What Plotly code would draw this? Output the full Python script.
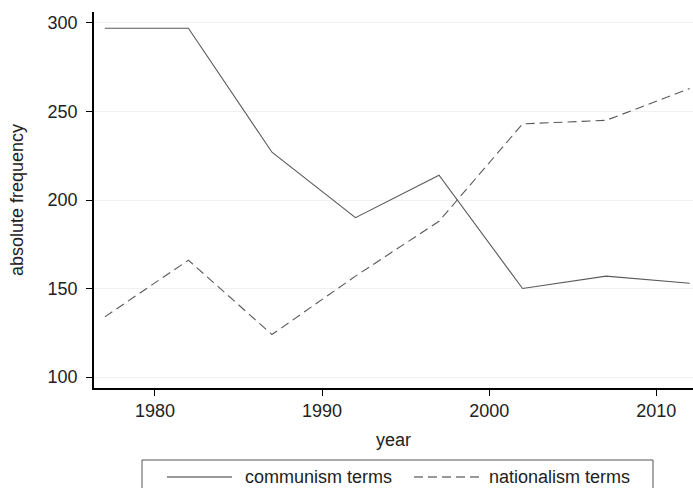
import plotly.graph_objects as go

years = [1977, 1982, 1987, 1992, 1997, 2002, 2007, 2012]
communism = [297, 297, 227, 190, 214, 150, 157, 153]
nationalism = [134, 166, 124, 157, 188, 243, 245, 263]
x_ticks = [1980, 1990, 2000, 2010]
y_ticks = [100, 150, 200, 250, 300]
series_names = ["communism terms", "nationalism terms"]

FONT = "Liberation Sans, Arial, sans-serif"
LINE_COLOR = "#5a5a5a"

fig = go.Figure()
fig.add_trace(go.Scatter(x=years, y=communism, mode="lines", name=series_names[0],
                         line=dict(color=LINE_COLOR, width=1.1), showlegend=False))
fig.add_trace(go.Scatter(x=years, y=nationalism, mode="lines", name=series_names[1],
                         line=dict(color=LINE_COLOR, width=1.1, dash="9px,5px"), showlegend=False))

fig.update_layout(
    width=693, height=488,
    margin=dict(l=94, r=0, t=12, b=100),
    paper_bgcolor="white", plot_bgcolor="white",
    font=dict(family=FONT, size=18, color="#222"),
    xaxis=dict(range=[1976.35, 2012.2], tickvals=x_ticks, ticks="outside", ticklen=6,
               tickcolor="black", showline=True, linecolor="black", linewidth=1.5,
               showgrid=False, zeroline=False,
               title=dict(text="year", standoff=13, font=dict(size=18))),
    yaxis=dict(range=[93.8, 306.2], tickvals=y_ticks, ticks="outside", ticklen=6,
               tickcolor="black", showline=True, linecolor="black", linewidth=1.5,
               showgrid=True, gridcolor="#f0f0f0", gridwidth=1, zeroline=False,
               ticklabelstandoff=5,
               title=dict(text="absolute frequency", standoff=19, font=dict(size=18))),
)

# legend box drawn manually
LEG_Y = -(477-388)/376
shapes = [
    dict(type="rect", xref="paper", yref="paper", x0=(142-94)/599, x1=(653-94)/599,
         y0=-(500-388)/376, y1=-(460-388)/376, line=dict(color="#555", width=1),
         fillcolor="white"),
    dict(type="line", xref="paper", yref="paper", x0=(167-94)/599, x1=(232-94)/599,
         y0=LEG_Y, y1=LEG_Y, line=dict(color="#333", width=1)),
    dict(type="line", xref="paper", yref="paper", x0=(414-94)/599, x1=(479-94)/599,
         y0=LEG_Y, y1=LEG_Y, line=dict(color="#333", width=1, dash="9px,5px")),
]
annotations = [
    dict(text=series_names[0], xref="paper", yref="paper", x=(243-94)/599, y=LEG_Y,
         xanchor="left", yanchor="middle", showarrow=False, font=dict(size=18, color="#222")),
    dict(text=series_names[1], xref="paper", yref="paper", x=(487-94)/599, y=LEG_Y,
         xanchor="left", yanchor="middle", showarrow=False, font=dict(size=18, color="#222")),
]
fig.update_layout(shapes=shapes, annotations=annotations)

fig.write_html("out.html", config={"displayModeBar": False},
               post_script="document.body.style.margin='0';document.body.style.overflow='hidden';")
